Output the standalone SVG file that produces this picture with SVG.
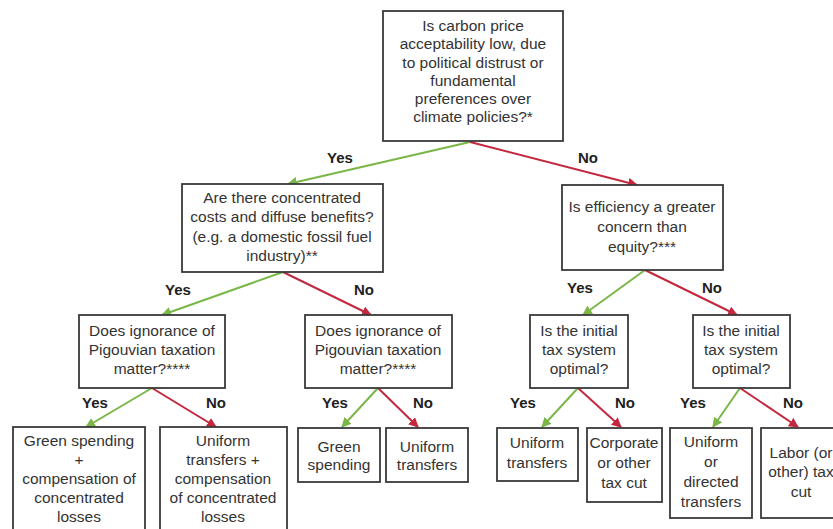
<svg xmlns="http://www.w3.org/2000/svg" width="833" height="529" viewBox="0 0 833 529">
<style>
.box{fill:#fff;stroke:#3a3a3a;stroke-width:1.8}
.t{font-family:"Liberation Sans",Arial,sans-serif;font-size:15.5px;fill:#333;text-anchor:middle}
.lbl{font-family:"Liberation Sans",Arial,sans-serif;font-size:15px;font-weight:bold;fill:#222;text-anchor:middle}
.g{stroke:#7ab648;stroke-width:2;fill:none;marker-end:url(#ag)}
.r{stroke:#c3283e;stroke-width:2;fill:none;marker-end:url(#ar)}
</style>
<defs>
<marker id="ag" viewBox="0 0 10 10" refX="9" refY="5" markerWidth="5" markerHeight="5" orient="auto" markerUnits="strokeWidth"><path d="M0,0 L10,5 L0,10 Z" fill="#7ab648"/></marker>
<marker id="ar" viewBox="0 0 10 10" refX="9" refY="5" markerWidth="5" markerHeight="5" orient="auto" markerUnits="strokeWidth"><path d="M0,0 L10,5 L0,10 Z" fill="#c3283e"/></marker>
</defs>
<rect width="833" height="529" fill="#fff"/>
<g id="connectors">
<line class="g" x1="470" y1="142" x2="288" y2="184"/>
<line class="r" x1="470" y1="142" x2="637" y2="185"/>
<line class="g" x1="283" y1="272" x2="162" y2="315"/>
<line class="r" x1="283" y1="272" x2="371" y2="315"/>
<line class="g" x1="645" y1="270" x2="583" y2="315"/>
<line class="r" x1="645" y1="270" x2="737" y2="315"/>
<line class="g" x1="152" y1="388" x2="86" y2="427"/>
<line class="r" x1="152" y1="388" x2="216" y2="427"/>
<line class="g" x1="378" y1="388" x2="342" y2="427"/>
<line class="r" x1="378" y1="388" x2="418" y2="427"/>
<line class="g" x1="578" y1="388" x2="542" y2="427"/>
<line class="r" x1="578" y1="388" x2="621" y2="427"/>
<line class="g" x1="740" y1="388" x2="713" y2="427"/>
<line class="r" x1="740" y1="388" x2="798" y2="427"/>
<text class="lbl" x="340" y="163">Yes</text>
<text class="lbl" x="588" y="163">No</text>
<text class="lbl" x="178" y="295">Yes</text>
<text class="lbl" x="364" y="295">No</text>
<text class="lbl" x="580" y="293">Yes</text>
<text class="lbl" x="712" y="293">No</text>
<text class="lbl" x="95" y="408">Yes</text>
<text class="lbl" x="216" y="408">No</text>
<text class="lbl" x="335" y="408">Yes</text>
<text class="lbl" x="423" y="408">No</text>
<text class="lbl" x="523" y="408">Yes</text>
<text class="lbl" x="625" y="408">No</text>
<text class="lbl" x="693" y="408">Yes</text>
<text class="lbl" x="793" y="408">No</text>
</g>
<g id="root">
<rect class="box" x="383" y="11" width="180" height="130"/>
<text class="t" x="473" y="31">Is carbon price</text>
<text class="t" x="473" y="49">acceptability low, due</text>
<text class="t" x="473" y="68">to political distrust or</text>
<text class="t" x="473" y="86">fundamental</text>
<text class="t" x="473" y="104">preferences over</text>
<text class="t" x="473" y="122">climate policies?*</text>
</g>
<g id="concentrated">
<rect class="box" x="182" y="184" width="201" height="88"/>
<text class="t" x="282" y="203">Are there concentrated</text>
<text class="t" x="282" y="222">costs and diffuse benefits?</text>
<text class="t" x="282" y="242">(e.g. a domestic fossil fuel</text>
<text class="t" x="282" y="261">industry)**</text>
</g>
<g id="efficiency">
<rect class="box" x="562" y="185" width="161" height="85"/>
<text class="t" x="642" y="212">Is efficiency a greater</text>
<text class="t" x="642" y="232">concern than</text>
<text class="t" x="642" y="252">equity?***</text>
</g>
<g id="pigou1">
<rect class="box" x="79" y="315" width="146" height="73"/>
<text class="t" x="152" y="336">Does ignorance of</text>
<text class="t" x="152" y="355">Pigouvian taxation</text>
<text class="t" x="152" y="374">matter?****</text>
</g>
<g id="pigou2">
<rect class="box" x="305" y="315" width="147" height="73"/>
<text class="t" x="378" y="336">Does ignorance of</text>
<text class="t" x="378" y="355">Pigouvian taxation</text>
<text class="t" x="378" y="374">matter?****</text>
</g>
<g id="tax1">
<rect class="box" x="530" y="315" width="98" height="73"/>
<text class="t" x="579" y="336">Is the initial</text>
<text class="t" x="579" y="355">tax system</text>
<text class="t" x="579" y="374">optimal?</text>
</g>
<g id="tax2">
<rect class="box" x="693" y="315" width="97" height="73"/>
<text class="t" x="741" y="336">Is the initial</text>
<text class="t" x="741" y="355">tax system</text>
<text class="t" x="741" y="374">optimal?</text>
</g>
<g id="leafE">
<rect class="box" x="13" y="427" width="132" height="110"/>
<text class="t" x="79" y="446">Green spending</text>
<text class="t" x="79" y="465">+</text>
<text class="t" x="79" y="484">compensation of</text>
<text class="t" x="79" y="503">concentrated</text>
<text class="t" x="79" y="522">losses</text>
</g>
<g id="leafF">
<rect class="box" x="160" y="427" width="127" height="110"/>
<text class="t" x="223" y="446">Uniform</text>
<text class="t" x="223" y="465">transfers +</text>
<text class="t" x="223" y="484">compensation</text>
<text class="t" x="223" y="503">of concentrated</text>
<text class="t" x="223" y="522">losses</text>
</g>
<g id="leafG">
<rect class="box" x="298" y="428" width="82" height="54"/>
<text class="t" x="339" y="452">Green</text>
<text class="t" x="339" y="470">spending</text>
</g>
<g id="leafH">
<rect class="box" x="386" y="428" width="82" height="54"/>
<text class="t" x="427" y="452">Uniform</text>
<text class="t" x="427" y="470">transfers</text>
</g>
<g id="leafI">
<rect class="box" x="497" y="428" width="81" height="53"/>
<text class="t" x="537" y="448">Uniform</text>
<text class="t" x="537" y="468">transfers</text>
</g>
<g id="leafJ">
<rect class="box" x="587" y="428" width="75" height="74"/>
<text class="t" x="624" y="448">Corporate</text>
<text class="t" x="624" y="468">or other</text>
<text class="t" x="624" y="488">tax cut</text>
</g>
<g id="leafK">
<rect class="box" x="670" y="428" width="82" height="90"/>
<text class="t" x="711" y="447">Uniform</text>
<text class="t" x="711" y="467">or</text>
<text class="t" x="711" y="487">directed</text>
<text class="t" x="711" y="507">transfers</text>
</g>
<g id="leafL">
<rect class="box" x="761" y="428" width="80" height="90"/>
<text class="t" x="801" y="458">Labor (or</text>
<text class="t" x="801" y="477">other) tax</text>
<text class="t" x="801" y="497">cut</text>
</g>
</svg>
